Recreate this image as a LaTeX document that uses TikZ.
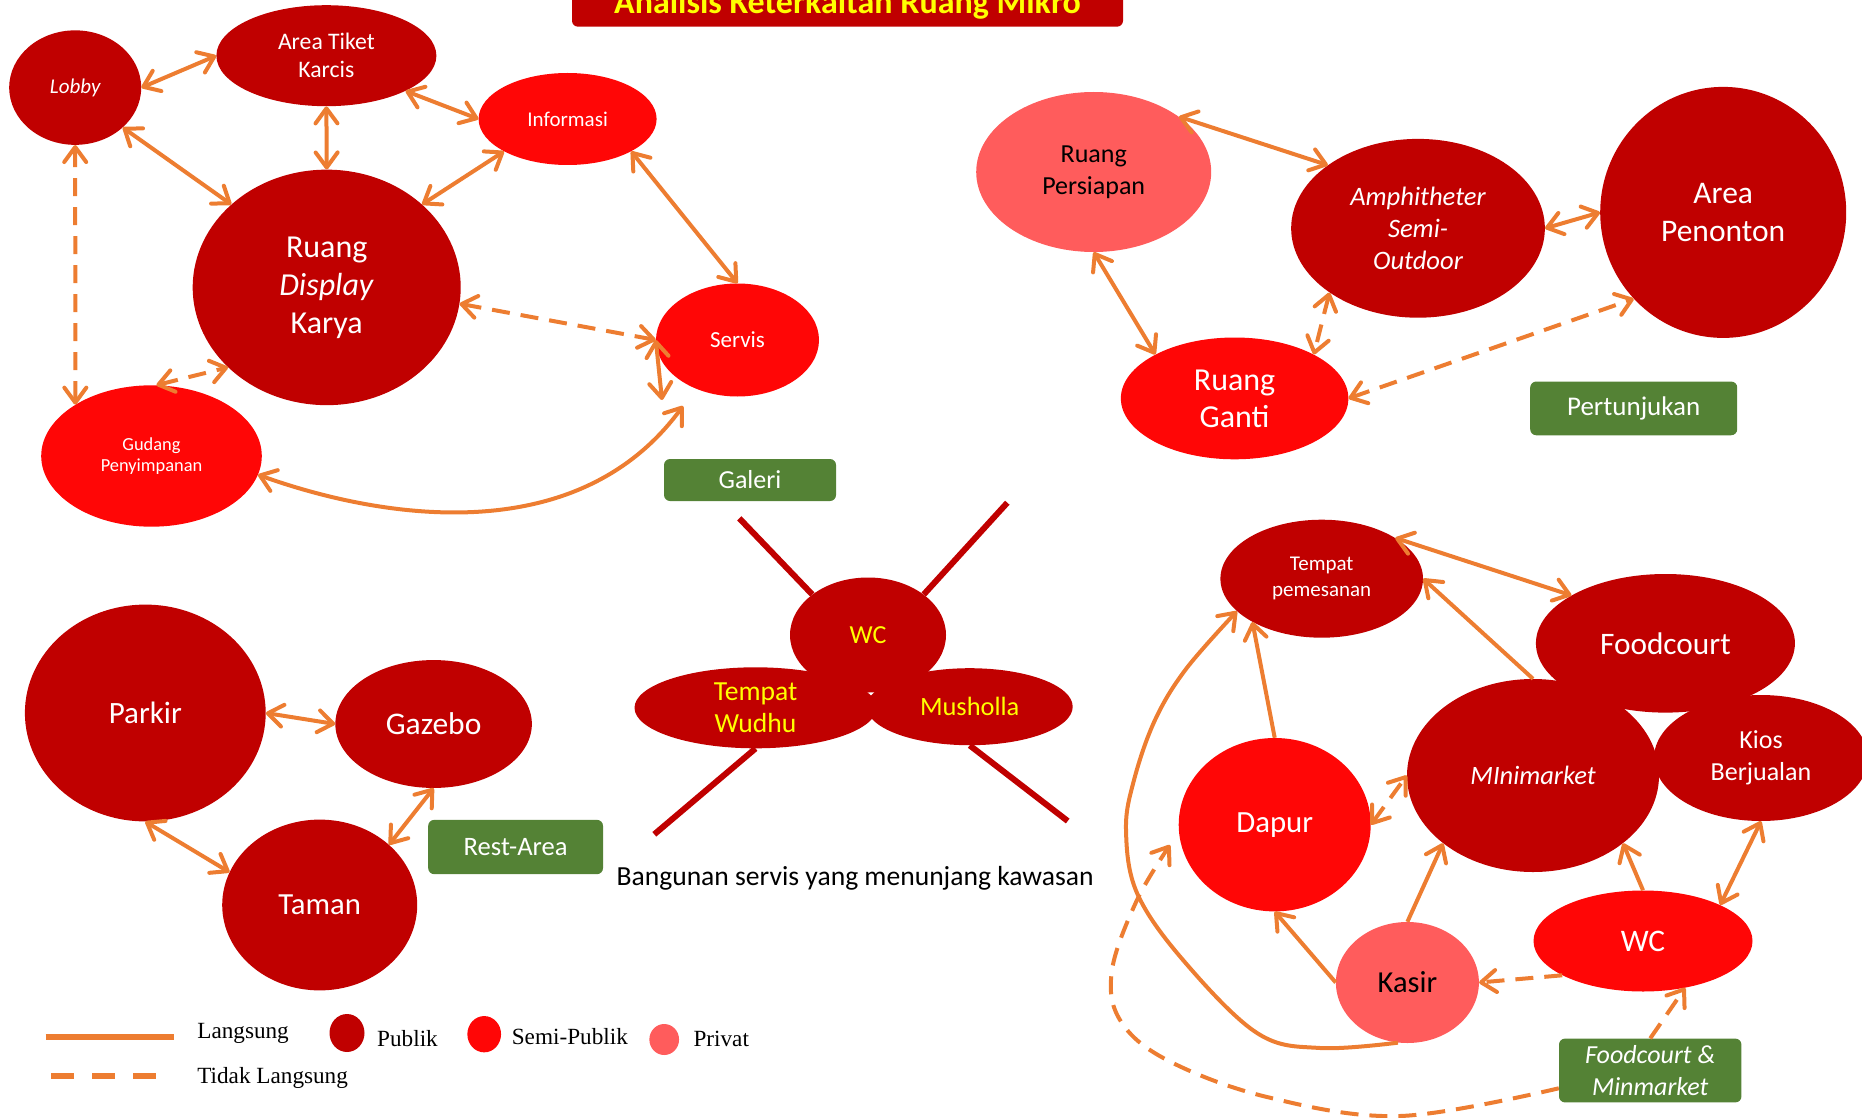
\documentclass[tikz,border=0pt]{standalone}
\usepackage{fontspec}
\setmainfont{Carlito}
\newfontfamily\legendserif{Liberation Serif}
\usetikzlibrary{shapes.geometric,arrows.meta}

\definecolor{publik}{HTML}{C00000}
\definecolor{semipublik}{HTML}{FF0606}
\definecolor{privat}{HTML}{FF5C5C}
\definecolor{orangeln}{HTML}{ED7D31}
\definecolor{taggreen}{HTML}{548235}
\definecolor{signyellow}{HTML}{FFFF00}

\newcommand{\fsz}[2]{\fontsize{#1}{#2}\selectfont}

\tikzset{
  >={Straight Barb[length=15pt,width=22pt,round]},
  room/.style={ellipse, inner sep=0pt, align=center, text=white},
  pub/.style={room, fill=publik},
  semi/.style={room, fill=semipublik},
  priv/.style={room, fill=privat, text=black},
  tagbox/.style={rectangle, rounded corners=6pt, fill=taggreen, text=white,
                 inner sep=0pt, align=center},
  conn/.style={draw=orangeln, line width=4pt},
  dconn/.style={conn, dash pattern=on 18pt off 11pt},
  tie/.style={draw=publik, line width=6pt},
  legtext/.style={anchor=base west, font=\legendserif\fsz{23.2}{28}},
  dot/.style={ellipse, inner sep=0pt},
}

\begin{document}
\begin{tikzpicture}[x=1pt,y=-1pt]
\useasboundingbox (0,0) rectangle (1862,1118);
\clip (0,0) rectangle (1862,1118);

% ---------- title ----------
\fill[publik, rounded corners=6pt] (572,-40) rectangle (1123,26.7);
\node[anchor=base, text=signyellow, font=\bfseries\fsz{34}{40}] (title) at (847.5,14)
  {Analisis Keterkaitan Ruang Mikro};

% ---------- Galeri ----------
\node[pub, minimum width=132pt, minimum height=114.5pt, font=\fsz{21}{25}\itshape] (lobby) at (75.2,87.6) {Lobby};
\node[pub, minimum width=220pt, minimum height=101pt, font=\fsz{23.7}{27.7}] (tiket) at (326.4,55.7) {Area Tiket\\Karcis};
\node[semi, minimum width=178pt, minimum height=92pt, font=\fsz{21}{25}] (info) at (567.6,119) {Informasi};
\node[pub, minimum width=268pt, minimum height=235.5pt, font=\fsz{32}{38}] (display) at (326.7,287.4) {Ruang\\\textit{Display}\\Karya};
\node[semi, minimum width=163pt, minimum height=113pt, font=\fsz{23}{27}] (servis) at (737.5,340) {Servis};
\node[semi, minimum width=220.6pt, minimum height=141.4pt, font=\fsz{18.4}{21.4}] (gudang) at (151.5,456) {Gudang\\Penyimpanan};
\node[tagbox, minimum width=172pt, minimum height=42pt, font=\fsz{26}{30}] (galeri) at (750,480) {Galeri};

\draw[conn,<->] (lobby.0) -- (tiket.180);
\draw[conn,<->] (tiket.-24) -- (info.180);
\draw[conn,<->] (tiket.south) -- (display.north);
\draw[conn,<->] (lobby.-40) -- (display.139);
\draw[conn,<->] (info.207) -- (display.41);
\draw[conn,<->] (info.-27) -- (servis.north);
\draw[dconn,<->] (lobby.south) -- (gudang.146);
\draw[dconn,<->] (display.-7) -- (servis.west);
\draw[dconn,<->] (gudang.86) -- (display.219);
\coordinate (servisfoot) at (662,400);
\draw[conn,<->] (servis.west) -- (servisfoot);
\coordinate (gudangend) at (683,406);
\draw[conn,<->] (gudang.-10) .. controls (390,522) and (580,547) .. (gudangend);

% ---------- Pertunjukan ----------
\node[priv, minimum width=235pt, minimum height=160pt, font=\fsz{26}{32}] (persiapan) at (1093.7,172) {Ruang\\Persiapan};
\node[pub, minimum width=253.7pt, minimum height=178.8pt, font=\fsz{26.6}{32}\itshape] (amphi) at (1418,228.3) {Amphitheter\\Semi-\\Outdoor};
\node[pub, minimum width=246pt, minimum height=251pt, font=\fsz{31.5}{38.6}] (penonton) at (1723.2,212.4) {Area\\Penonton};
\node[semi, minimum width=227.5pt, minimum height=121.8pt, font=\fsz{32}{37}] (ganti) at (1234.6,398.4) {Ruang\\Ganti};
\node[tagbox, minimum width=207pt, minimum height=53.7pt, font=\fsz{27}{31}] (pertunjukan) at (1633.7,408.4) {Pertunjukan};

\draw[conn,<->] (persiapan.33) -- (amphi.145);
\draw[conn,<->] (persiapan.south) -- (ganti.151);
\draw[conn,<->] (amphi.east) -- (penonton.west);
\draw[dconn,<->] (amphi.216) -- (ganti.29);
\draw[dconn,<->] (ganti.east) -- (penonton.224);

% ---------- Rest-Area ----------
\node[pub, minimum width=240.8pt, minimum height=216.8pt, font=\fsz{31}{36}] (parkir) at (145.3,713) {Parkir};
\node[pub, minimum width=196.5pt, minimum height=127.9pt, font=\fsz{31.5}{36}] (gazebo) at (433.6,724) {Gazebo};
\node[pub, minimum width=195pt, minimum height=170.8pt, font=\fsz{30.7}{36}] (taman) at (319.7,905) {Taman};
\node[tagbox, minimum width=174.8pt, minimum height=54.3pt, font=\fsz{26.6}{31}] (restarea) at (515.6,847) {Rest-Area};

\draw[conn,<->] (parkir.east) -- (gazebo.west);
\draw[conn,<->] (parkir.south) -- (taman.160);
\draw[conn,<->] (gazebo.south) -- (taman.41);

% ---------- service cluster ----------
\node[pub, text=signyellow, minimum width=156pt, minimum height=115pt, font=\fsz{26}{30}] (wc) at (868,635) {WC};
\node[pub, text=signyellow, minimum width=242pt, minimum height=81pt, font=\fsz{27.6}{31.7}] (wudhu) at (755.5,707.8) {Tempat\\Wudhu};
\node[pub, text=signyellow, minimum width=206pt, minimum height=77pt, font=\fsz{26.4}{30}] (musholla) at (969.7,706.7) {Musholla};

\coordinate (tieA) at (739.3,518.3);
\coordinate (tieB) at (1007.3,502.7);
\coordinate (tieC) at (654.3,834.3);
\coordinate (tieD) at (1067.7,821);
\draw[tie] (tieA) -- (wc.144);
\draw[tie] (tieB) -- (wc.36);
\draw[tie] (tieC) -- (wudhu.south);
\draw[tie] (tieD) -- (musholla.south);

\node[anchor=base west, font=\fsz{27.6}{33}] (caption) at (613,885) {Bangunan servis yang menunjang kawasan};

% ---------- Foodcourt & Minimarket ----------
\node[pub, minimum width=202.6pt, minimum height=118pt, font=\fsz{21}{25.6}] (tempat) at (1321.7,578.7) {Tempat\\pemesanan};
\node[pub, minimum width=259pt, minimum height=138.6pt, font=\fsz{31.3}{36}] (foodcourt) at (1665.4,643.3) {Foodcourt};
\node[pub, minimum width=252pt, minimum height=193pt, font=\fsz{26.5}{31}\itshape] (minimarket) at (1533,775.5) {MInimarket};
\node[pub, minimum width=214pt, minimum height=126pt, font=\fsz{26}{31.6}] (kios) at (1761,758) {Kios\\Berjualan};
\node[semi, minimum width=192pt, minimum height=173.4pt, font=\fsz{30.8}{36}] (dapur) at (1274.7,824.7) {Dapur};
\node[priv, minimum width=143pt, minimum height=121pt, font=\fsz{30.5}{36}] (kasir) at (1407.4,982.5) {Kasir};
\node[semi, minimum width=219pt, minimum height=101pt, font=\fsz{31.4}{36}] (wcf) at (1643,941) {WC};
\node[tagbox, minimum width=182.4pt, minimum height=63.8pt, font=\fsz{26}{32.8}\itshape] (fmbox) at (1650.2,1070.5) {Foodcourt \&\\Minmarket};

\draw[conn,<->] (tempat.29) -- (foodcourt.153);
\draw[conn,->] (minimarket.north) -- (tempat.east);
\draw[conn,->] (dapur.north) -- (tempat.212);
\draw[conn,->] plot[smooth, tension=0.6] coordinates {(kasir.261) (1320,1048) (1257,1033) (1183,960) (1137,893) (1126,830) (1134,780) (1155,720) (1186,669) (tempat.201)};
\draw[conn,->] (kasir.west) -- (dapur.south);
\draw[conn,->] (kasir.north) -- (minimarket.217);
\draw[dconn,<->] (dapur.east) -- (minimarket.west);
\draw[conn,->] (wcf.north) -- (minimarket.-37);
\draw[conn,<->] (kios.south) -- (wcf.25);
\draw[dconn,->] (wcf.203) -- (kasir.east);
\draw[dconn,->] (fmbox.north) -- (wcf.-48);
\coordinate (dapurhint) at (1170,845);
\draw[dconn,->] plot[smooth, tension=0.6] coordinates {(fmbox.191) (1400,1116) (1267,1097) (1167,1060) (1120,1020) (1112,970) (1137,900) (dapurhint)};

% ---------- legend ----------
\coordinate (solidA) at (45.5,1037);
\coordinate (solidB) at (174,1037);
\coordinate (dashA) at (51.4,1076);
\coordinate (dashB) at (156,1076);
\draw[draw=orangeln, line width=6.5pt] (solidA) -- (solidB);
\draw[draw=orangeln, line width=6.5pt, dash pattern=on 23pt off 18pt] (dashA) -- (dashB);
\node[legtext] (lgsolid) at (193.8,1038.6) {Langsung};
\node[legtext] (lgdash) at (193.8,1083) {Tidak Langsung};
\node[dot, fill=publik, minimum width=35pt, minimum height=38pt] (dotpub) at (347,1033) {};
\node[legtext] (lgpub) at (373.7,1046.4) {Publik};
\node[dot, fill=semipublik, minimum width=33.7pt, minimum height=36.3pt] (dotsemi) at (484.2,1034.2) {};
\node[legtext] (lgsemi) at (508.3,1044.3) {Semi-Publik};
\node[dot, fill=privat, minimum width=29.7pt, minimum height=31pt] (dotpriv) at (664.2,1039.5) {};
\node[legtext] (lgpriv) at (690,1046.7) {Privat};
\end{tikzpicture}
\end{document}
